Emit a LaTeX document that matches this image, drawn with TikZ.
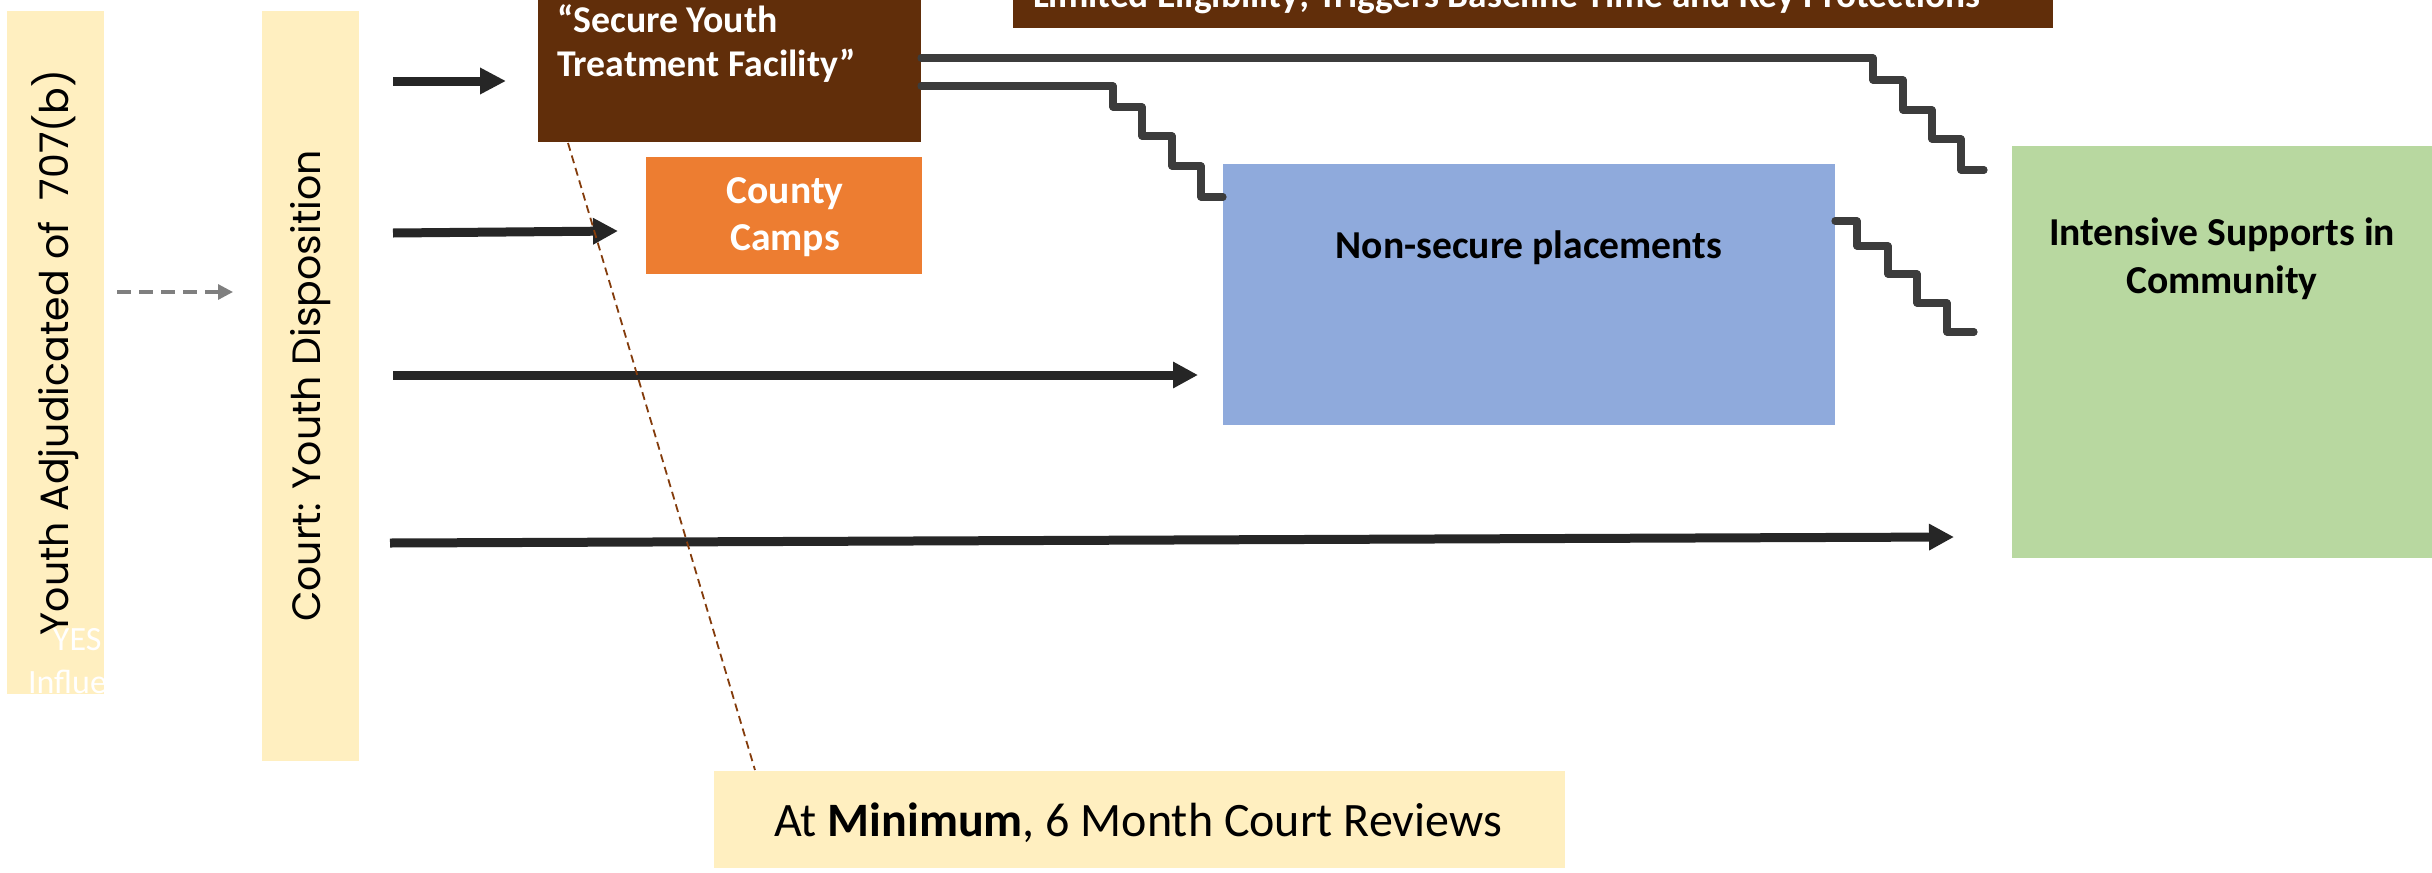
\documentclass[tikz,border=0pt]{standalone}
\usepackage{fontspec}
\setmainfont{Carlito}
\newfontfamily\rotfont{Poppins}
\usetikzlibrary{arrows.meta}
\definecolor{ylw}{HTML}{FFEFC0}
\definecolor{brn}{HTML}{612E0A}
\definecolor{org}{HTML}{ED7D31}
\definecolor{blu}{HTML}{8FAADC}
\definecolor{grn}{HTML}{B8D8A0}
\definecolor{arrc}{HTML}{262626}
\definecolor{stairc}{HTML}{3C3C3C}
\definecolor{dgray}{HTML}{7F7F7F}
\definecolor{dbrn}{HTML}{843C0C}
\tikzset{
  box/.style={draw=none, inner sep=0pt, outer sep=0pt, rectangle},
  lbl/.style={inner sep=0pt, outer sep=0pt},
  boldlbl/.style={lbl, font=\fontsize{19.8pt}{24pt}\selectfont\bfseries},
  whitelbl/.style={lbl, text=white, font=\fontsize{18.9pt}{22pt}\selectfont\bfseries},
  thickarrow/.style={draw=arrc, line width=4.5pt, -{Triangle[length=12.5pt,width=12.5pt]}},
  stair/.style={draw=stairc, line width=3.6pt, line join=round, line cap=round},
  rottext/.style={lbl, rotate=90, font=\rotfont\fontsize{19.75pt}{22pt}\selectfont}
}
\begin{document}
\begin{tikzpicture}[x=0.5pt,y=-0.5pt]
\useasboundingbox (0,0) rectangle (2432,873);
% boxes
\node[box, fill=ylw, minimum width=48.5pt, minimum height=341.5pt] (adj) at (55.5,352.5) {};
\node[box, fill=ylw, minimum width=48.5pt, minimum height=375pt] (court) at (310.5,386) {};
\node[box, fill=brn, minimum width=191.5pt, minimum height=91pt] (sec) at (729.5,51) {};
\node[box, fill=brn, minimum width=520pt, minimum height=34pt] (lim) at (1533,-6) {};
\node[box, fill=org, minimum width=138pt, minimum height=58.5pt] (camp) at (784,215.5) {};
\node[box, fill=blu, minimum width=306pt, minimum height=130.5pt] (nons) at (1529,294.5) {};
\node[box, fill=grn, minimum width=216pt, minimum height=206pt] (isc) at (2228,352) {};
\node[box, fill=ylw, minimum width=425.5pt, minimum height=48.5pt] (rev) at (1139.5,819.5) {};
% rotated texts
\node[rottext] (adjT) at (adj.center) {Youth Adjudicated of\ \ 707(b)};
\node[rottext] (courtT) at (court.center) {Court: Youth Disposition};
% hidden white text, clipped to box
\begin{scope}
\clip (7,11) rectangle (104,694);
\node[lbl, anchor=base west, text=white, font=\fontsize{17pt}{20pt}\selectfont] (yes) at (53,650) {YES};
\node[lbl, anchor=base west, text=white, font=\fontsize{17pt}{20pt}\selectfont] (infl) at (28,693) {Influe};
\end{scope}
% box texts
\node[whitelbl, anchor=base west] (secT1) at (557,32) {“Secure Youth};
\node[whitelbl, anchor=base west] (secT2) at (557,76) {Treatment Facility”};
\node[whitelbl, anchor=base west, font=\fontsize{18.7pt}{22pt}\selectfont\bfseries] (limT) at (1033,7) {Limited Eligibility; Triggers Baseline Time and Key Protections};
\node[boldlbl, anchor=base, text=white] (campT1) at (785,203) {County};
\node[boldlbl, anchor=base, text=white] (campT2) at (785,250) {Camps};
\node[boldlbl, anchor=base] (nonsT) at (1529,258) {Non-secure placements};
\node[boldlbl, anchor=base] (iscT1) at (2222,245) {Intensive Supports in};
\node[boldlbl, anchor=base] (iscT2) at (2222,293) {Community};
\node[lbl, anchor=base, font=\fontsize{24pt}{28pt}\selectfont] (revT) at (1138,836) {At \textbf{Minimum}, 6 Month Court Reviews};
% connector points
\coordinate (d1) at (117,292);
\coordinate (d2) at (233,292);
\coordinate (a1s) at (393,81);
\coordinate (a1e) at (506,81);
\coordinate (a2s) at (393,233);
\coordinate (a2e) at (618,231);
\coordinate (a3s) at (393,375);
\coordinate (a3e) at (1198,375);
\coordinate (a4s) at (390,543);
\coordinate (a4e) at (1954,537);
\coordinate (b1) at (568,143);
\coordinate (b2) at (755,770);
% dashed gray arrow
\draw[draw=dgray, line width=1.6pt, dash pattern=on 7pt off 4pt, -{Triangle[length=7.5pt,width=7.5pt]}] (d1) -- (d2);
% thick arrows
\draw[thickarrow, -{Triangle[length=13pt,width=12.5pt]}] (a1s) -- (a1e);
\draw[thickarrow] (a2s) -- (a2e);
\draw[thickarrow] (a3s) -- (a3e);
\draw[thickarrow] (a4s) -- (a4e);
% dashed brown line
\draw[draw=dbrn, line width=0.9pt, dash pattern=on 4pt off 2.5pt] (b1) -- (b2);
% stairs
\draw[stair] (sec.east |- 0,58) -- (1873,58) -- (1873,80) -- (1903,80) -- (1903,110) -- (1932,110) -- (1932,139) -- (1961,139) -- (1961,170) -- (1984,170);
\draw[stair] (sec.east |- 0,86) -- (1113,86) -- (1113,107) -- (1142,107) -- (1142,136) -- (1172,136) -- (1172,166) -- (1201,166) -- (1201,197) -- (nons.west |- 0,197);
\draw[stair] (nons.east |- 0,221) -- (1857,221) -- (1857,246) -- (1888,246) -- (1888,274) -- (1917,274) -- (1917,303) -- (1947,303) -- (1947,332) -- (1974,332);
\end{tikzpicture}
\end{document}
